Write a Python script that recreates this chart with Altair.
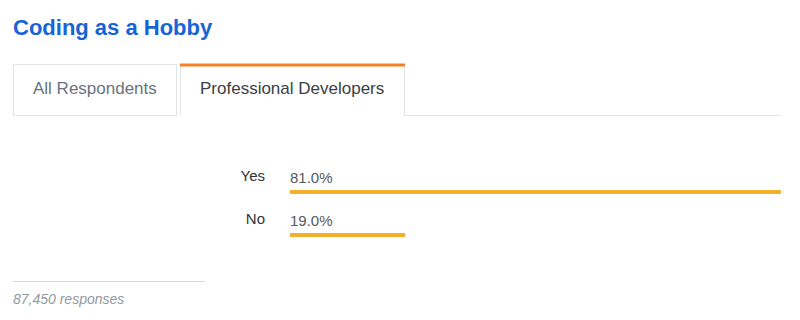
import altair as alt
import pandas as pd

# ---- data ----
title_text = "Coding as a Hobby"
tabs = ["All Respondents", "Professional Developers"]
categories = ["Yes", "No"]
percentages = [81.0, 19.0]
responses = 87450

FONT = "Liberation Sans"
BORDER = "#e2e4e6"
BAR = "#f5b02b"
ORANGE = "#f48024"

df = pd.DataFrame({"answer": categories, "pct": percentages})

one = alt.Data(values=[{"k": 0}])


def rule(x, x2, y, y2, color=BORDER, width=1):
    return alt.Chart(one).mark_rule(color=color, strokeWidth=width).encode(
        x=alt.value(x), x2=alt.value(x2), y=alt.value(y), y2=alt.value(y2)
    )


def label(text, x, y, size, color, weight="normal", style="normal", align="left"):
    return alt.Chart(one).mark_text(
        text=text, font=FONT, fontSize=size, color=color, fontWeight=weight,
        fontStyle=style, align=align, baseline="alphabetic"
    ).encode(x=alt.value(x), y=alt.value(y))


# ---- header / tabs ----
title = label(title_text, 13, 35, 22, "#1763d7", weight="bold")

tab_lines = [
    rule(13.5, 13.5, 64, 115),          # inactive left
    rule(13, 177, 64.5, 64.5),          # inactive top
    rule(176.5, 176.5, 64, 115),        # inactive right
    rule(180.5, 180.5, 66, 115),        # active left
    rule(404.5, 404.5, 66, 115),        # active right
    rule(180, 405, 65, 65, color=ORANGE, width=3),  # active top
    rule(13, 177, 115.5, 115.5),        # baseline left
    rule(404, 781, 115.5, 115.5),       # baseline right
]
tab_text = [
    label(tabs[0], 33, 94, 17, "#6a737c"),
    label(tabs[1], 200, 94, 17, "#3b4045"),
]

# ---- bars ----
xscale = alt.Scale(domain=[0, 100], range=[290, 896])
yscale = alt.Scale(type="point", domain=categories, range=[192, 235], padding=0)

base = alt.Chart(df).transform_calculate(
    start="0", txt="format(datum.pct, '.1f') + '%'"
)

bars = base.mark_rule(color=BAR, strokeWidth=4, strokeCap="butt").encode(
    x=alt.X("start:Q", scale=xscale, axis=None),
    x2="pct:Q",
    y=alt.Y("answer:N", scale=yscale, axis=None),
)

cat_labels = base.mark_text(
    font=FONT, fontSize=15, color="#2f3337", align="right", baseline="alphabetic", dy=-11
).encode(
    x=alt.value(265),
    y=alt.Y("answer:N", scale=yscale, axis=None),
    text="answer:N",
)

pct_labels = base.mark_text(
    font=FONT, fontSize=15, color="#535a60", align="left", baseline="alphabetic", dy=-9
).encode(
    x=alt.value(290),
    y=alt.Y("answer:N", scale=yscale, axis=None),
    text="txt:N",
)

# ---- footer ----
footer_rule = rule(13, 205, 281.5, 281.5, color="#d6d9dc")
footer_text = label(f"{responses:,} responses", 13, 304, 14, "#9199a1", style="italic")

chart = alt.layer(
    title, *tab_lines, *tab_text, bars, cat_labels, pct_labels, footer_rule, footer_text
).properties(
    width=800, height=320, padding=0,
    autosize=alt.AutoSizeParams(type="none"),
    background="white",
).configure_view(stroke=None)

chart.save("out.html", embed_options={"renderer": "svg", "actions": False})
